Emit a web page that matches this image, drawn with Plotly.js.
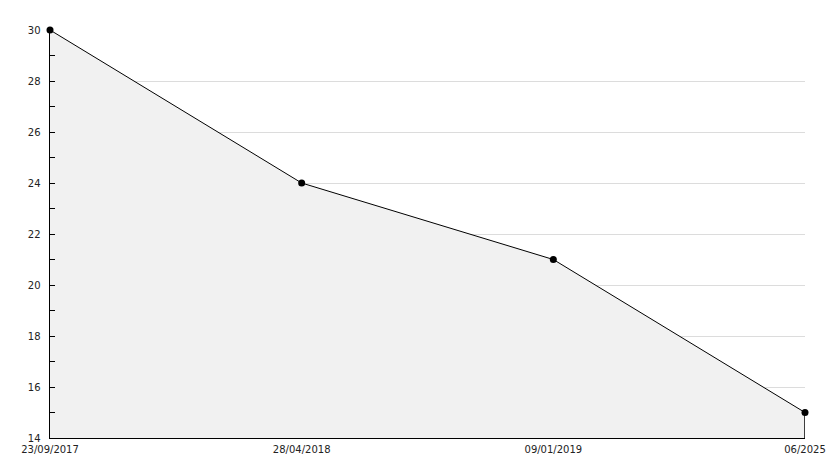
<!DOCTYPE html>
<html><head><meta charset="utf-8">
<script src="https://cdn.plot.ly/plotly-3.0.1.min.js"></script>
<style>html,body{margin:0;padding:0;background:#fff}</style>
</head><body>
<div id="chart" style="width:834px;height:468px"></div>
<script>
const dates = ["23/09/2017", "28/04/2018", "09/01/2019", "06/2025"];
const values = [30, 24, 21, 15];
const yMin = 14, yMax = 30;

const lastX = dates[dates.length - 1];
const lastY = values[values.length - 1];

const traces = [
  {x: dates, y: values, type: 'scatter', mode: 'lines', fill: 'tozeroy',
   fillcolor: '#f1f1f1', line: {color: '#000', width: 1}, hoverinfo: 'skip'},
  {x: [lastX, lastX], y: [lastY, yMin], type: 'scatter', mode: 'lines',
   line: {color: '#000', width: 1.5}, hoverinfo: 'skip'},
  {x: dates, y: values, type: 'scatter', mode: 'markers',
   marker: {color: '#000', size: 7, symbol: 'circle'}, cliponaxis: false, hoverinfo: 'x+y'}
];

const layout = {
  width: 834, height: 468,
  margin: {l: 50, r: 29, t: 30, b: 30},
  paper_bgcolor: '#fff', plot_bgcolor: '#fff',
  showlegend: false,
  font: {family: 'DejaVu Sans, Verdana, sans-serif', size: 10, color: '#222'},
  xaxis: {type: 'category', categoryorder: 'array', categoryarray: dates,
          range: [0, dates.length - 1], showgrid: false,
          showline: true, linecolor: '#000', linewidth: 1, ticks: '',
          zeroline: false, fixedrange: true, tickfont: {size: 10}, ticklabelstandoff: 2},
  yaxis: {range: [yMin, yMax], dtick: 2, tick0: 0, showgrid: true, gridcolor: '#dcdcdc',
          showline: true, linecolor: '#000', linewidth: 1.5, ticks: 'inside', ticklen: 5,
          tickcolor: '#000', zeroline: false, fixedrange: true, ticklabelstandoff: 6,
          minor: {dtick: 1, ticks: 'inside', ticklen: 5, tickcolor: '#000', showgrid: false},
          tickfont: {size: 10}}
};

Plotly.newPlot('chart', traces, layout, {displayModeBar: false, staticPlot: true});
</script>
</body></html>
